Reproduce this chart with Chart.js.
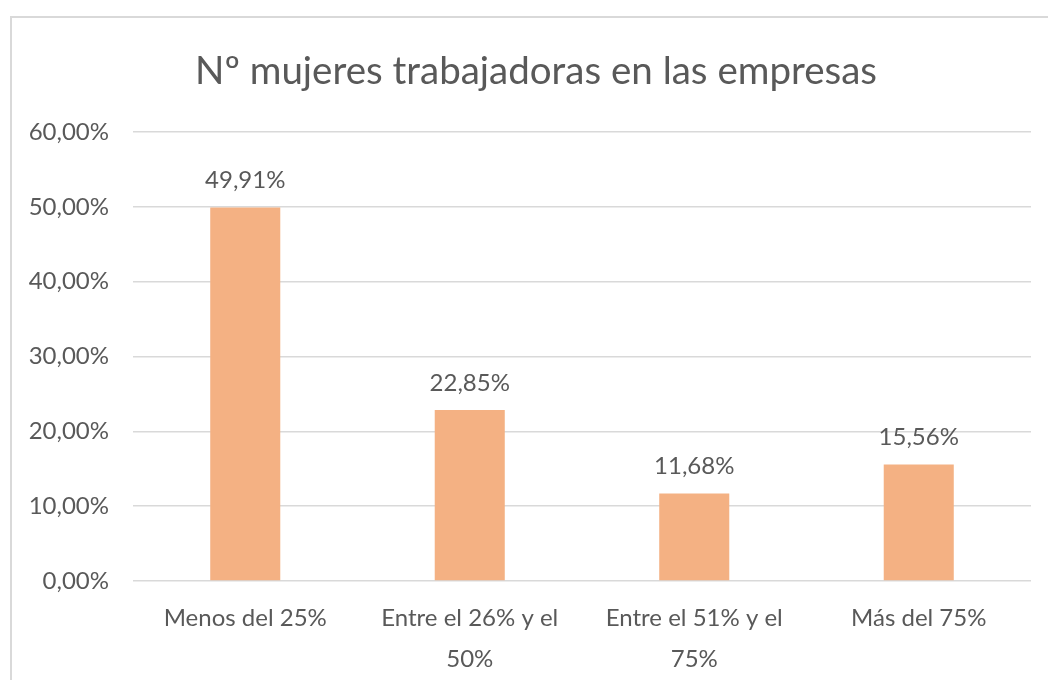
<!DOCTYPE html>
<html>
<head>
<meta charset="utf-8">
<script src="https://cdn.jsdelivr.net/npm/chart.js@4"></script>
<style>
  html, body { margin: 0; padding: 0; background: #fff; overflow: hidden; }
  #frame {
    position: absolute; left: 10px; top: 16px; width: 1060px; height: 700px;
    border-left: 2.5px solid #d9d9d9; border-top: 2.5px solid #d9d9d9;
  }
  #wrap { position: absolute; left: 0; top: 0; width: 1048px; height: 680px; }
</style>
</head>
<body>
<div id="frame"></div>
<div id="wrap"><canvas id="chart"></canvas></div>
<script>
// data
const categories = [['Menos del 25%'], ['Entre el 26% y el', '50%'], ['Entre el 51% y el', '75%'], ['Más del 75%']];
const values = [49.91, 22.85, 11.68, 15.56];
const yTicks = [0, 10, 20, 30, 40, 50, 60];
const chartTitle = 'Nº mujeres trabajadoras en las empresas';

const textColor = '#595959';
const fontFamily = 'Lato, "Open Sans", sans-serif';

function pct(v) {
  return v.toFixed(2).replace('.', ',') + '%';
}

// value labels over each bar
const barLabels = {
  id: 'barLabels',
  afterDatasetsDraw(chart) {
    const ctx = chart.ctx;
    const meta = chart.getDatasetMeta(0);
    ctx.save();
    ctx.fillStyle = textColor;
    ctx.font = '24px ' + fontFamily;
    ctx.textAlign = 'center';
    ctx.textBaseline = 'bottom';
    meta.data.forEach((bar, i) => {
      ctx.fillText(pct(values[i]), bar.x, bar.y - 15);
    });
    ctx.restore();
  }
};

// title sits a little right of the canvas centre, like the Excel original
const titleText = {
  id: 'titleText',
  afterDraw(chart) {
    const ctx = chart.ctx;
    ctx.save();
    ctx.fillStyle = textColor;
    ctx.font = '38.5px ' + fontFamily;
    ctx.textAlign = 'center';
    ctx.textBaseline = 'middle';
    ctx.fillText(chartTitle, 536, 72);
    ctx.restore();
  }
};

const ctx = document.getElementById('chart').getContext('2d');
new Chart(ctx, {
  type: 'bar',
  data: {
    labels: categories,
    datasets: [{
      data: values,
      backgroundColor: '#f4b183',
      barPercentage: 0.312,
      categoryPercentage: 1
    }]
  },
  options: {
    responsive: true,
    maintainAspectRatio: false,
    animation: false,
    layout: { padding: { top: 132, right: 17, bottom: 0, left: 0 } },
    plugins: {
      legend: { display: false },
      tooltip: { enabled: false },
      title: { display: false }
    },
    scales: {
      x: {
        grid: { display: false },
        border: { display: false },
        ticks: {
          color: textColor,
          font: { family: fontFamily, size: 24, lineHeight: 1.7 },
          padding: 9,
          maxRotation: 0,
          autoSkip: false
        },
        afterFit(scale) { scale.height = 99; }
      },
      y: {
        min: 0,
        max: 60,
        afterBuildTicks(scale) {
          scale.ticks = yTicks.map(v => ({ value: v }));
        },
        grid: { color: '#d9d9d9', lineWidth: 1.5, drawTicks: false },
        border: { display: false },
        ticks: {
          color: textColor,
          font: { family: fontFamily, size: 24 },
          padding: 24,
          callback: v => pct(v)
        },
        afterFit(scale) { scale.width = 133; }
      }
    }
  },
  plugins: [barLabels, titleText]
});
</script>
</body>
</html>
